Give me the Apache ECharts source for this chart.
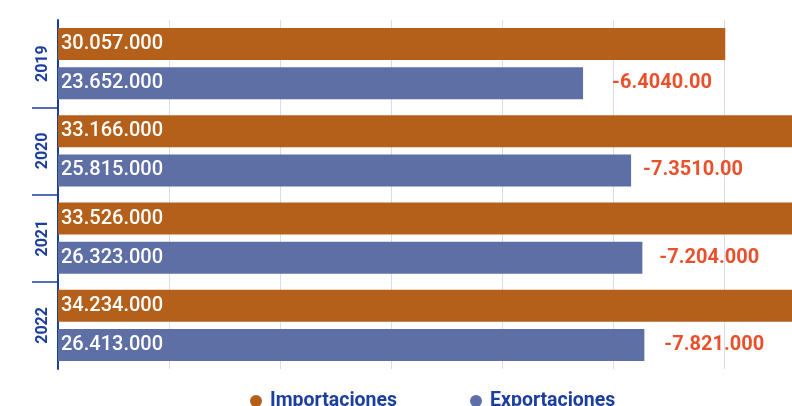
<!DOCTYPE html>
<html>
<head>
<meta charset="utf-8">
<style>
  html, body { margin: 0; padding: 0; background: #ffffff; }
  #chart { width: 792px; height: 406px; }
</style>
<script src="https://cdn.jsdelivr.net/npm/echarts@6/dist/echarts.min.js"></script>
</head>
<body>
<div id="chart"></div>
<script>
var categories = ['2019', '2020', '2021', '2022'];
var importaciones = [30057000, 33166000, 33526000, 34234000];
var exportaciones = [23652000, 25815000, 26323000, 26413000];
var diffLabels = ['-6.4040.00', '-7.3510.00', '-7.204.000', '-7.821.000'];
var seriesNames = ['Importaciones', 'Exportaciones'];

function fmt(v) {
  var s = String(Math.round(v));
  return s.replace(/\B(?=(\d{3})+(?!\d))/g, '.');
}

var FONT = 'Roboto';
var BLUE = '#1c3f9e';
var diffGap = [29, 12, 17, 20];

var chart = echarts.init(document.getElementById('chart'), null, { renderer: 'canvas' });
chart.setOption({
  animation: false,
  grid: { left: 58, right: -43, top: 20, bottom: 37, containLabel: false, outerBoundsMode: 'none' },
  legend: {
    data: seriesNames,
    left: 245,
    top: 386,
    icon: 'circle',
    itemWidth: 12,
    itemHeight: 12,
    itemGap: 73,
    textStyle: { fontFamily: FONT, fontSize: 19.5, fontWeight: 'bold', color: BLUE, padding: [0, 0, 0, 3] }
  },
  xAxis: {
    type: 'value',
    min: 0,
    max: 35000000,
    interval: 5000000,
    axisLine: { show: false },
    axisTick: { show: false },
    axisLabel: { show: false },
    splitLine: { show: true, lineStyle: { color: '#d7dcee', width: 1 } }
  },
  yAxis: [{
    type: 'category',
    data: categories,
    inverse: true,
    position: 'left',
    axisLine: { show: true, lineStyle: { color: BLUE, width: 2 } },
    axisTick: { show: false },
    axisLabel: {
      rotate: 90,
      margin: 7,
      fontFamily: FONT,
      fontSize: 16,
      fontWeight: 'bold',
      color: BLUE
    },
    splitLine: { show: false }
  }, {
    type: 'value',
    min: 0,
    max: 4,
    inverse: true,
    position: 'left',
    axisLine: { show: false },
    axisLabel: { show: false },
    splitLine: { show: false },
    axisTick: {
      show: true,
      inside: false,
      length: 26,
      customValues: [1, 2, 3],
      lineStyle: { color: BLUE, width: 1.5 }
    }
  }],
  series: [{
    name: 'Importaciones',
    type: 'bar',
    yAxisIndex: 0,
    data: importaciones,
    barWidth: 32,
    barGap: '22%',
    itemStyle: { color: '#b5601a' },
    label: {
      show: true,
      position: 'insideLeft',
      distance: 3,
      formatter: function (p) { return fmt(p.value); },
      fontFamily: FONT, fontSize: 20, fontWeight: 500, color: '#ffffff'
    }
  }, {
    name: 'Exportaciones',
    type: 'bar',
    yAxisIndex: 0,
    stack: 'exp',
    data: exportaciones,
    barWidth: 32,
    barGap: '22%',
    itemStyle: { color: '#5e6fa6' },
    label: {
      show: true,
      position: 'insideLeft',
      distance: 3,
      formatter: function (p) { return fmt(p.value); },
      fontFamily: FONT, fontSize: 20, fontWeight: 500, color: '#ffffff'
    }
  }, {
    name: 'Diferencia',
    type: 'bar',
    yAxisIndex: 0,
    stack: 'exp',
    data: exportaciones.map(function (v, i) {
      return { value: 0, label: { distance: diffGap[i] } };
    }),
    barWidth: 32,
    barGap: '22%',
    itemStyle: { color: 'transparent' },
    label: {
      show: true,
      position: 'right',
      formatter: function (p) { return diffLabels[p.dataIndex]; },
      fontFamily: FONT, fontSize: 20, fontWeight: 'bold', color: '#e8512b'
    }
  }]
});
</script>
</body>
</html>
